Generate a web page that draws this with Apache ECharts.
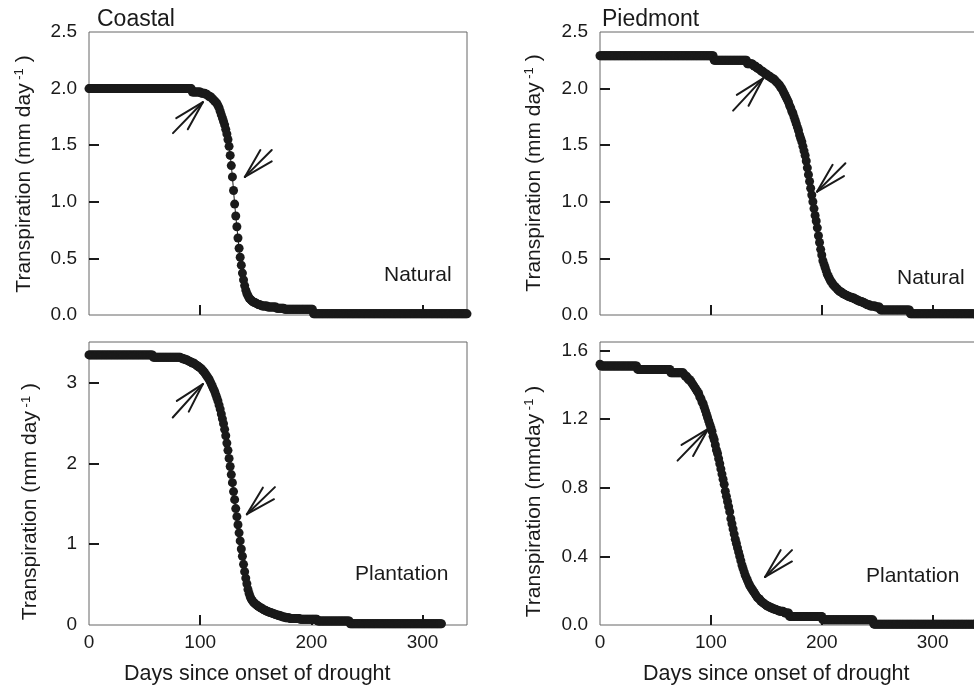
<!DOCTYPE html>
<html><head><meta charset="utf-8">
<script src="https://cdn.jsdelivr.net/npm/echarts@6/dist/echarts.min.js"></script>
<style>html,body{margin:0;padding:0;background:#fff}#c{width:974px;height:689px}</style>
</head><body><div id="c"></div>
<script>
// Daily transpiration (mm/day), index = days since onset of drought
const coastalNatural = [
2,2,2,2,2,2,2,2,2,2,
2,2,2,2,2,2,2,2,2,2,
2,2,2,2,2,2,2,2,2,2,
2,2,2,2,2,2,2,2,2,2,
2,2,2,2,2,2,2,2,2,2,
2,2,2,2,2,2,2,2,2,2,
2,2,2,2,2,2,2,2,2,2,
2,2,2,2,2,2,2,2,2,2,
2,2,2,2,2,2,2,2,2,2,
2,2,2,1.97,1.97,1.97,1.97,1.97,1.97,1.97,
1.97,1.96,1.96,1.96,1.96,1.95,1.95,1.94,1.93,1.93,
1.92,1.91,1.90,1.89,1.88,1.87,1.85,1.83,1.80,1.77,
1.74,1.71,1.68,1.64,1.60,1.55,1.49,1.41,1.32,1.22,
1.10,0.98,0.875,0.78,0.68,0.59,0.51,0.44,0.37,0.31,
0.26,0.22,0.19,0.17,0.15,0.14,0.13,0.12,0.115,0.11,
0.105,0.10,0.095,0.09,0.09,0.085,0.08,0.08,0.08,0.08,
0.08,0.07,0.07,0.07,0.07,0.07,0.07,0.07,0.07,0.06,
0.06,0.06,0.06,0.06,0.06,0.06,0.05,0.05,0.05,0.05,
0.05,0.05,0.05,0.05,0.05,0.05,0.05,0.05,0.05,0.05,
0.05,0.05,0.05,0.05,0.05,0.05,0.05,0.05,0.05,0.05,
0.05,0.05,0.01,0.01,0.01,0.01,0.01,0.01,0.01,0.01,
0.01,0.01,0.01,0.01,0.01,0.01,0.01,0.01,0.01,0.01,
0.01,0.01,0.01,0.01,0.01,0.01,0.01,0.01,0.01,0.01,
0.01,0.01,0.01,0.01,0.01,0.01,0.01,0.01,0.01,0.01,
0.01,0.01,0.01,0.01,0.01,0.01,0.01,0.01,0.01,0.01,
0.01,0.01,0.01,0.01,0.01,0.01,0.01,0.01,0.01,0.01,
0.01,0.01,0.01,0.01,0.01,0.01,0.01,0.01,0.01,0.01,
0.01,0.01,0.01,0.01,0.01,0.01,0.01,0.01,0.01,0.01,
0.01,0.01,0.01,0.01,0.01,0.01,0.01,0.01,0.01,0.01,
0.01,0.01,0.01,0.01,0.01,0.01,0.01,0.01,0.01,0.01,
0.01,0.01,0.01,0.01,0.01,0.01,0.01,0.01,0.01,0.01,
0.01,0.01,0.01,0.01,0.01,0.01,0.01,0.01,0.01,0.01,
0.01,0.01,0.01,0.01,0.01,0.01,0.01,0.01,0.01,0.01,
0.01,0.01,0.01,0.01,0.01,0.01,0.01,0.01,0.01,0.01,
0.01
];
const piedmontNatural = [
2.29,2.29,2.29,2.29,2.29,2.29,2.29,2.29,2.29,2.29,
2.29,2.29,2.29,2.29,2.29,2.29,2.29,2.29,2.29,2.29,
2.29,2.29,2.29,2.29,2.29,2.29,2.29,2.29,2.29,2.29,
2.29,2.29,2.29,2.29,2.29,2.29,2.29,2.29,2.29,2.29,
2.29,2.29,2.29,2.29,2.29,2.29,2.29,2.29,2.29,2.29,
2.29,2.29,2.29,2.29,2.29,2.29,2.29,2.29,2.29,2.29,
2.29,2.29,2.29,2.29,2.29,2.29,2.29,2.29,2.29,2.29,
2.29,2.29,2.29,2.29,2.29,2.29,2.29,2.29,2.29,2.29,
2.29,2.29,2.29,2.29,2.29,2.29,2.29,2.29,2.29,2.29,
2.29,2.29,2.29,2.29,2.29,2.29,2.29,2.29,2.29,2.29,
2.29,2.29,2.29,2.25,2.25,2.25,2.25,2.25,2.25,2.25,
2.25,2.25,2.25,2.25,2.25,2.25,2.25,2.25,2.25,2.25,
2.25,2.25,2.25,2.25,2.25,2.25,2.25,2.25,2.25,2.25,
2.25,2.25,2.25,2.22,2.22,2.22,2.22,2.22,2.21,2.20,
2.20,2.19,2.18,2.18,2.17,2.16,2.15,2.15,2.14,2.13,
2.13,2.12,2.11,2.11,2.10,2.09,2.09,2.08,2.07,2.06,
2.05,2.04,2.03,2.01,2.00,1.98,1.96,1.94,1.92,1.90,
1.88,1.85,1.83,1.80,1.78,1.75,1.72,1.69,1.66,1.63,
1.59,1.56,1.53,1.49,1.45,1.41,1.36,1.30,1.24,1.18,
1.12,1.06,1.00,0.94,0.88,0.83,0.77,0.70,0.64,0.58,
0.53,0.48,0.45,0.42,0.39,0.36,0.34,0.32,0.30,0.29,
0.27,0.26,0.25,0.24,0.23,0.22,0.21,0.205,0.20,0.19,
0.185,0.18,0.175,0.17,0.165,0.16,0.16,0.155,0.15,0.15,
0.14,0.14,0.13,0.13,0.12,0.12,0.12,0.11,0.11,0.10,
0.10,0.09,0.09,0.09,0.08,0.08,0.08,0.08,0.08,0.07,
0.07,0.07,0.07,0.045,0.045,0.045,0.045,0.045,0.045,0.045,
0.045,0.045,0.045,0.045,0.045,0.045,0.045,0.045,0.045,0.045,
0.045,0.045,0.045,0.045,0.045,0.045,0.045,0.045,0.045,0.045,
0.01,0.01,0.01,0.01,0.01,0.01,0.01,0.01,0.01,0.01,
0.01,0.01,0.01,0.01,0.01,0.01,0.01,0.01,0.01,0.01,
0.01,0.01,0.01,0.01,0.01,0.01,0.01,0.01,0.01,0.01,
0.01,0.01,0.01,0.01,0.01,0.01,0.01,0.01,0.01,0.01,
0.01,0.01,0.01,0.01,0.01,0.01,0.01,0.01,0.01,0.01,
0.01,0.01,0.01,0.01,0.01,0.01,0.01,0.01,0.01,0.01,
0.01
];
const coastalPlantation = [
3.34,3.34,3.34,3.34,3.34,3.34,3.34,3.34,3.34,3.34,
3.34,3.34,3.34,3.34,3.34,3.34,3.34,3.34,3.34,3.34,
3.34,3.34,3.34,3.34,3.34,3.34,3.34,3.34,3.34,3.34,
3.34,3.34,3.34,3.34,3.34,3.34,3.34,3.34,3.34,3.34,
3.34,3.34,3.34,3.34,3.34,3.34,3.34,3.34,3.34,3.34,
3.34,3.34,3.34,3.34,3.34,3.34,3.34,3.34,3.31,3.31,
3.31,3.31,3.31,3.31,3.31,3.31,3.31,3.31,3.31,3.31,
3.31,3.31,3.31,3.31,3.31,3.31,3.31,3.31,3.31,3.31,
3.31,3.31,3.31,3.30,3.30,3.29,3.29,3.28,3.28,3.27,
3.26,3.26,3.25,3.24,3.24,3.23,3.22,3.21,3.20,3.19,
3.18,3.17,3.15,3.14,3.12,3.10,3.08,3.06,3.04,3.01,
2.98,2.95,2.92,2.89,2.85,2.81,2.77,2.72,2.67,2.61,
2.55,2.49,2.42,2.34,2.25,2.16,2.06,1.96,1.86,1.76,
1.65,1.55,1.44,1.34,1.24,1.14,1.04,0.94,0.85,0.75,
0.66,0.58,0.51,0.44,0.39,0.35,0.32,0.30,0.28,0.27,
0.255,0.245,0.235,0.225,0.215,0.21,0.20,0.19,0.185,0.18,
0.17,0.165,0.16,0.155,0.15,0.145,0.14,0.135,0.13,0.125,
0.12,0.12,0.11,0.11,0.10,0.10,0.10,0.09,0.09,0.09,
0.09,0.08,0.08,0.08,0.08,0.08,0.08,0.08,0.08,0.08,
0.07,0.07,0.07,0.07,0.07,0.07,0.07,0.07,0.07,0.07,
0.07,0.07,0.07,0.07,0.07,0.07,0.05,0.05,0.05,0.05,
0.05,0.05,0.05,0.05,0.05,0.05,0.05,0.05,0.05,0.05,
0.05,0.05,0.05,0.05,0.05,0.05,0.05,0.05,0.05,0.05,
0.05,0.05,0.05,0.05,0.05,0.015,0.015,0.015,0.015,0.015,
0.015,0.015,0.015,0.015,0.015,0.015,0.015,0.015,0.015,0.015,
0.015,0.015,0.015,0.015,0.015,0.015,0.015,0.015,0.015,0.015,
0.015,0.015,0.015,0.015,0.015,0.015,0.015,0.015,0.015,0.015,
0.015,0.015,0.015,0.015,0.015,0.015,0.015,0.015,0.015,0.015,
0.015,0.015,0.015,0.015,0.015,0.015,0.015,0.015,0.015,0.015,
0.015,0.015,0.015,0.015,0.015,0.015,0.015,0.015,0.015,0.015,
0.015,0.015,0.015,0.015,0.015,0.015,0.015,0.015,0.015,0.015,
0.015,0.015,0.015,0.015,0.015,0.015,0.015,0.015
];
const piedmontPlantation = [
1.52,1.51,1.51,1.51,1.51,1.51,1.51,1.51,1.51,1.51,
1.51,1.51,1.51,1.51,1.51,1.51,1.51,1.51,1.51,1.51,
1.51,1.51,1.51,1.51,1.51,1.51,1.51,1.51,1.51,1.51,
1.51,1.51,1.51,1.51,1.49,1.49,1.49,1.49,1.49,1.49,
1.49,1.49,1.49,1.49,1.49,1.49,1.49,1.49,1.49,1.49,
1.49,1.49,1.49,1.49,1.49,1.49,1.49,1.49,1.49,1.49,
1.49,1.49,1.49,1.49,1.47,1.47,1.47,1.47,1.47,1.47,
1.47,1.47,1.47,1.47,1.47,1.47,1.46,1.45,1.45,1.44,
1.43,1.43,1.42,1.41,1.40,1.39,1.38,1.37,1.36,1.35,
1.33,1.32,1.30,1.29,1.27,1.25,1.23,1.21,1.19,1.17,
1.15,1.13,1.10,1.08,1.05,1.02,1.00,0.97,0.94,0.91,
0.88,0.85,0.82,0.78,0.75,0.72,0.69,0.66,0.62,0.59,
0.56,0.53,0.50,0.475,0.45,0.425,0.40,0.375,0.35,0.33,
0.31,0.29,0.275,0.26,0.245,0.23,0.22,0.21,0.20,0.19,
0.18,0.17,0.16,0.155,0.15,0.14,0.135,0.13,0.125,0.12,
0.115,0.11,0.11,0.105,0.10,0.10,0.095,0.095,0.09,0.09,
0.085,0.085,0.08,0.08,0.08,0.08,0.075,0.07,0.07,0.07,
0.07,0.05,0.05,0.05,0.05,0.05,0.05,0.05,0.05,0.05,
0.05,0.05,0.05,0.05,0.05,0.05,0.05,0.05,0.05,0.05,
0.05,0.05,0.05,0.05,0.05,0.05,0.05,0.05,0.05,0.05,
0.05,0.03,0.03,0.03,0.03,0.03,0.03,0.03,0.03,0.03,
0.03,0.03,0.03,0.03,0.03,0.03,0.03,0.03,0.03,0.03,
0.03,0.03,0.03,0.03,0.03,0.03,0.03,0.03,0.03,0.03,
0.03,0.03,0.03,0.03,0.03,0.03,0.03,0.03,0.03,0.03,
0.03,0.03,0.03,0.03,0.03,0.03,0.03,0.005,0.005,0.005,
0.005,0.005,0.005,0.005,0.005,0.005,0.005,0.005,0.005,0.005,
0.005,0.005,0.005,0.005,0.005,0.005,0.005,0.005,0.005,0.005,
0.005,0.005,0.005,0.005,0.005,0.005,0.005,0.005,0.005,0.005,
0.005,0.005,0.005,0.005,0.005,0.005,0.005,0.005,0.005,0.005,
0.005,0.005,0.005,0.005,0.005,0.005,0.005,0.005,0.005,0.005,
0.005,0.005,0.005,0.005,0.005,0.005,0.005,0.005,0.005,0.005,
0.005,0.005,0.005,0.005,0.005,0.005,0.005,0.005,0.005,0.005,
0.005,0.005,0.005,0.005,0.005,0.005,0.005,0.005,0.005,0.005,
0.005,0.005,0.005,0.005,0.005,0.005,0.005,0.005,0.005,0.005,
0.005
];

// Tick values
const xTickLabels = [0, 100, 200, 300];
const xTickMarks = [100, 200, 300];
const yTicksNatural = [0, 0.5, 1.0, 1.5, 2.0, 2.5];
const yMarksNatural = [0.5, 1.0, 1.5, 2.0];
const yTicksCoastalPlant = [0, 1, 2, 3];
const yMarksCoastalPlant = [1, 2, 3];
const yTicksPiedPlant = [0, 0.4, 0.8, 1.2, 1.6];
const yMarksPiedPlant = [0.4, 0.8, 1.2, 1.6];

// Arrow annotations: [tip day, tip value, tail direction (deg, screen), shaft length px]
const arrowsCN = [[102.4, 1.88, 134, 43], [140.2, 1.22, -45, 38]];
const arrowsPN = [[147.1, 2.09, 133, 44], [195.8, 1.09, -45, 40]];
const arrowsCP = [[102.4, 2.98, 132, 45], [142.0, 1.37, -44, 39]];
const arrowsPP = [[97.5, 1.143, 134, 44], [148.9, 0.28, -45, 38]];

const FONT = '"Liberation Sans", Arial, Helvetica, sans-serif';
const INK = '#1a1a1a';
const TXT = '#1a1a1a';

const gridPos = [
  {left: 89, top: 32, width: 378, height: 283},
  {left: 600, top: 32, width: 377, height: 283},
  {left: 89, top: 342, width: 378, height: 283},
  {left: 600, top: 342, width: 377, height: 283}
];
const grids = gridPos.map(g => Object.assign({}, g, {
  show: true, borderColor: '#666', borderWidth: 1,
  backgroundColor: 'transparent', containLabel: false, outerBoundsMode: 'none'
}));

function xAxis(i, showLabels) {
  return {
    type: 'value', gridIndex: i, min: 0, max: 340,
    axisLine: {show: false}, splitLine: {show: false},
    axisTick: {show: true, inside: true, length: 10, customValues: xTickMarks,
               lineStyle: {color: TXT, width: 2}},
    axisLabel: {show: showLabels, customValues: xTickLabels, margin: 8,
                fontSize: 19, color: TXT, fontFamily: FONT,
                formatter: v => String(Math.round(v))}
  };
}
function yAxis(i, max, labels, marks, dec) {
  return {
    type: 'value', gridIndex: i, min: 0, max: max,
    axisLine: {show: false}, splitLine: {show: false},
    axisTick: {show: true, inside: true, length: 10, customValues: marks,
               lineStyle: {color: TXT, width: 2}},
    axisLabel: {customValues: labels, margin: 12, fontSize: 19, color: TXT,
                fontFamily: FONT, formatter: v => v.toFixed(dec)}
  };
}

function toPairs(arr) { return arr.map((v, d) => [d, v]); }

function curve(i, arr) {
  return [
    {type: 'line', xAxisIndex: i, yAxisIndex: i, data: toPairs(arr),
     showSymbol: false, lineStyle: {color: INK, width: 1}, z: 2, silent: true},
    {type: 'scatter', xAxisIndex: i, yAxisIndex: i, data: toPairs(arr),
     symbol: 'circle', symbolSize: 9, itemStyle: {color: INK, opacity: 1}, z: 3, silent: true}
  ];
}

function arrows(i, arr) {
  return {
    type: 'custom', xAxisIndex: i, yAxisIndex: i, data: arr, silent: true, z: 5,
    renderItem: function (params, api) {
      const p = api.coord([api.value(0), api.value(1)]);
      const a = api.value(2) * Math.PI / 180;
      const L = api.value(3), B = 31, S = 15 * Math.PI / 180;
      const end = (ang, len) => [p[0] + len * Math.cos(ang), p[1] + len * Math.sin(ang)];
      const seg = q => ({type: 'line', shape: {x1: p[0], y1: p[1], x2: q[0], y2: q[1]},
                         style: {stroke: INK, lineWidth: 2, lineCap: 'round'}});
      return {type: 'group', children: [seg(end(a, L)), seg(end(a - S, B)), seg(end(a + S, B))]};
    }
  };
}

function hText(txt, x, y, size) {
  return {type: 'text', x: x, y: y, silent: true,
          style: {text: txt, fontSize: size, fontFamily: FONT, fill: TXT,
                  align: 'left', verticalAlign: 'middle'}};
}
function vTitle(txt, x, y) {
  return {type: 'text', x: x, y: y, rotation: Math.PI / 2, silent: true,
          style: {text: txt, fontSize: 21, fontFamily: FONT, fill: TXT,
                  align: 'center', verticalAlign: 'middle',
                  rich: {sup: {fontSize: 13, fontFamily: FONT, fill: TXT, verticalAlign: 'top', padding: [0, 0, 9, 0]}}}};
}

const chart = echarts.init(document.getElementById('c'), null, {renderer: 'canvas'});
chart.setOption({
  animation: false,
  backgroundColor: '#fff',
  grid: grids,
  xAxis: [xAxis(0, false), xAxis(1, false), xAxis(2, true), xAxis(3, true)],
  yAxis: [
    yAxis(0, 2.5, yTicksNatural, yMarksNatural, 1),
    yAxis(1, 2.5, yTicksNatural, yMarksNatural, 1),
    yAxis(2, 3.5, yTicksCoastalPlant, yMarksCoastalPlant, 0),
    yAxis(3, 1.65, yTicksPiedPlant, yMarksPiedPlant, 1)
  ],
  series: [].concat(
    curve(0, coastalNatural), curve(1, piedmontNatural),
    curve(2, coastalPlantation), curve(3, piedmontPlantation),
    [arrows(0, arrowsCN), arrows(1, arrowsPN), arrows(2, arrowsCP), arrows(3, arrowsPP)]
  ),
  graphic: [
    hText('Coastal', 97, 20, 23),
    hText('Piedmont', 602, 20, 23),
    hText('Natural', 384, 275.5, 21),
    hText('Natural', 897, 278.5, 21),
    hText('Plantation', 355, 574, 21),
    hText('Plantation', 866, 576, 21),
    hText('Days since onset of drought', 124, 674.5, 21.5),
    hText('Days since onset of drought', 643, 674.5, 21.5),
    vTitle('Transpiration (mm day{sup| -1} )', 24, 174),
    vTitle('Transpiration (mm day{sup| -1} )', 534, 173),
    vTitle('Transpiration (mm day{sup| -1} )', 30.5, 501.7),
    vTitle('Transpiration (mmday{sup| -1} )', 534, 501.5)
  ]
});
</script>
</body></html>
